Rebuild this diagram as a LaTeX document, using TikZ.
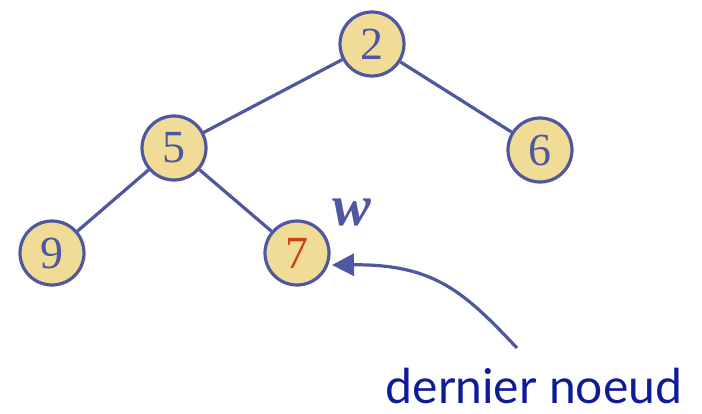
\documentclass[tikz,border=0pt]{standalone}
\usepackage{fontspec}
\setmainfont{Liberation Serif}
\newfontfamily\labelfont{Lato}
\usetikzlibrary{arrows.meta}
\definecolor{nodefill}{HTML}{F0DC96}
\definecolor{edgeblue}{HTML}{4F57A0}
\definecolor{redtext}{HTML}{D04010}
\definecolor{labelblue}{HTML}{101C96}
\tikzset{
  tnode/.style={circle, draw=edgeblue, fill=nodefill, line width=3.2pt, minimum size=64pt, inner sep=0pt, text=edgeblue, font=\fontsize{46}{46}\selectfont},
  edge/.style={draw=edgeblue, line width=3.2pt},
}
\begin{document}
\begin{tikzpicture}[x=1pt,y=-1pt]
\useasboundingbox (0,0) rectangle (702,413);
\node[tnode] (n2) at (372,44) {2};
\node[tnode] (n5) at (174,148) {5};
\node[tnode] (n6) at (540,150) {6};
\node[tnode] (n9) at (52,253) {9};
\node[tnode, text=redtext] (n7) at (297,253) {7};
\draw[edge] (n2) -- (n5);
\draw[edge] (n2) -- (n6);
\draw[edge] (n5) -- (n9);
\draw[edge] (n5) -- (n7);
\node[text=edgeblue, font=\fontsize{58}{58}\selectfont\bfseries\itshape] (w) at (352,212) {w};
\node[text=labelblue, font=\labelfont\fontsize{48}{48}\selectfont] (lbl) at (534,386) {dernier noeud};
\coordinate (s) at (517,348);
\coordinate (t) at (332,265);
\draw[edge, -{Triangle[length=22pt,width=22pt]}] (s) .. controls (465,293) and (435,264) .. (t);
\end{tikzpicture}
\end{document}
